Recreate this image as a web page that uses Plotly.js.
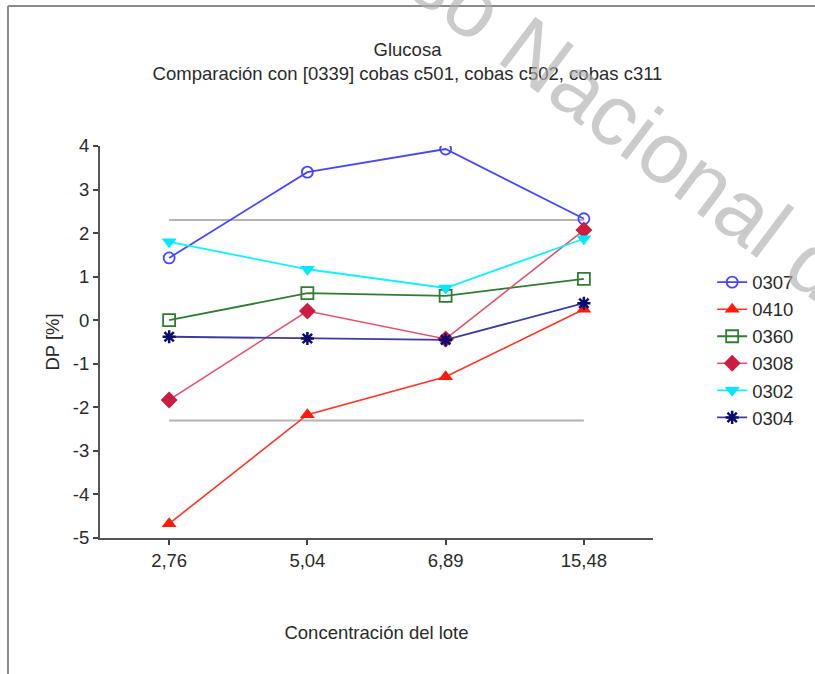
<!DOCTYPE html>
<html>
<head>
<meta charset="utf-8">
<script src="https://cdn.plot.ly/plotly-3.0.1.min.js"></script>
<style>
  html, body { margin: 0; padding: 0; background: #ffffff; }
  #chart { width: 815px; height: 674px; }
</style>
</head>
<body>
<div id="chart"></div>
<script>
// ---- Data ----
const categories = ["2,76", "5,04", "6,89", "15,48"];
const seriesNames = ["0307", "0410", "0360", "0308", "0302", "0304"];
const s0307 = [1.43, 3.40, 3.93, 2.33];
const s0410 = [-4.67, -2.17, -1.30, 0.25];
const s0360 = [0.00, 0.62, 0.56, 0.95];
const s0308 = [-1.83, 0.21, -0.43, 2.07];
const s0302 = [1.80, 1.17, 0.74, 1.87];
const s0304 = [-0.38, -0.42, -0.45, 0.39];
const limitUpper = [2.3, 2.3];
const limitLower = [-2.3, -2.3];
const limitX = [categories[0], categories[categories.length - 1]];
const yTicks = [-5, -4, -3, -2, -1, 0, 1, 2, 3, 4];
const yTickLabels = ["-5", "-4", "-3", "-2", "-1", "0", "1", "2", "3", "4"];

const FONT = "'Liberation Sans', Arial, sans-serif";
const FS = 18.5;
const TXT = "#2a2a2a";

const traces = [
  { x: limitX, y: limitUpper, mode: "lines", line: { color: "#b4b4b4", width: 2 }, showlegend: false, hoverinfo: "skip" },
  { x: limitX, y: limitLower, mode: "lines", line: { color: "#b4b4b4", width: 2 }, showlegend: false, hoverinfo: "skip" },
  { name: seriesNames[0], x: categories, y: s0307, mode: "lines+markers",
    line: { color: "#4646ff", width: 1.8 },
    marker: { symbol: "circle-open", size: 11, color: "#4646ff", line: { width: 1.8, color: "#4646ff" } } },
  { name: seriesNames[1], x: categories, y: s0410, mode: "lines+markers",
    line: { color: "#ff3324", width: 1.6 },
    marker: { symbol: "triangle-up", size: 13, color: "#ff1a0a" } },
  { name: seriesNames[2], x: categories, y: s0360, mode: "lines+markers",
    line: { color: "#2f7d32", width: 1.8 },
    marker: { symbol: "square-open", size: 12, color: "#2f7d32", line: { width: 1.8, color: "#2f7d32" } } },
  { name: seriesNames[3], x: categories, y: s0308, mode: "lines+markers",
    line: { color: "#e4506c", width: 1.6 },
    marker: { symbol: "diamond", size: 13, color: "#cc1d40" } },
  { name: seriesNames[4], x: categories, y: s0302, mode: "lines+markers",
    line: { color: "#10f0ff", width: 1.8 },
    marker: { symbol: "triangle-down", size: 13, color: "#00e8ff" } },
  { name: seriesNames[5], x: categories, y: s0304, mode: "lines+markers",
    line: { color: "#3c3c9e", width: 1.8 },
    marker: { symbol: "asterisk-open", size: 11, color: "#0c0c70", line: { width: 2.5, color: "#0c0c70" } } }
];

const layout = {
  width: 815,
  height: 674,
  paper_bgcolor: "#ffffff",
  plot_bgcolor: "#ffffff",
  margin: { l: 100, r: 162, t: 146, b: 136 },
  font: { family: FONT, size: FS, color: TXT },
  title: {
    text: "Glucosa<br>Comparación con [0339] cobas c501, cobas c502, cobas c311",
    font: { family: FONT, size: FS, color: TXT },
    xref: "container", x: 0.5, xanchor: "center",
    yref: "container", y: 1 - 56 / 674, yanchor: "middle"
  },
  xaxis: {
    type: "category",
    categoryorder: "array",
    categoryarray: categories,
    range: [-0.5, 3.5],
    showgrid: false, zeroline: false,
    showline: true, linecolor: "#555555", linewidth: 2,
    ticks: "outside", ticklen: 5, tickwidth: 2, tickcolor: "#444444",
    tickfont: { family: FONT, size: FS, color: TXT },
    title: { text: "Concentración del lote", font: { family: FONT, size: FS, color: TXT }, standoff: 56 },
    automargin: false
  },
  yaxis: {
    range: [-5, 4],
    tickmode: "array",
    tickvals: yTicks,
    ticktext: yTickLabels,
    showgrid: false, zeroline: false,
    showline: true, linecolor: "#555555", linewidth: 2,
    ticks: "outside", ticklen: 5, tickwidth: 2, tickcolor: "#444444",
    tickfont: { family: FONT, size: FS, color: TXT },
    title: { text: "DP [%]", font: { family: FONT, size: FS, color: TXT }, standoff: 8 },
    automargin: false
  },
  legend: {
    x: 1.107, xanchor: "left",
    y: 0.70, yanchor: "top",
    font: { family: FONT, size: FS, color: TXT },
    bgcolor: "rgba(0,0,0,0)",
    borderwidth: 0,
    tracegroupgap: 0
  },
  shapes: [
    { type: "line", xref: "paper", yref: "paper", x0: -0.1664, x1: 1.3, y0: 1.357, y1: 1.357, line: { color: "#8a8a8a", width: 2 } },
    { type: "line", xref: "paper", yref: "paper", x0: -0.1664, x1: -0.1664, y0: 1.357, y1: -0.4, line: { color: "#8a8a8a", width: 2 } }
  ],
  annotations: [
    { text: "so Nacional de", xref: "paper", yref: "paper", x: 0.99, y: 1.02,
      xanchor: "center", yanchor: "middle", textangle: 37, showarrow: false,
      font: { family: "'Liberation Sans', Arial, sans-serif", size: 86, color: "rgba(175,175,175,0.65)" } }
  ],
  showlegend: true
};

Plotly.newPlot("chart", traces, layout, { displayModeBar: false, staticPlot: true });
</script>
</body>
</html>
